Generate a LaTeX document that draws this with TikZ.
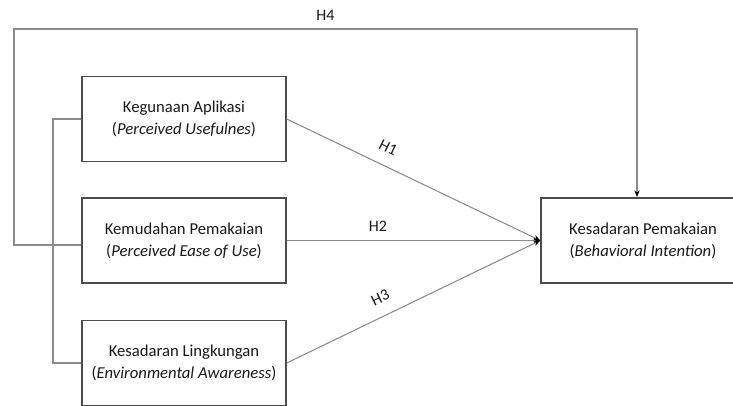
\documentclass[tikz,border=0pt]{standalone}
\usepackage{fontspec}
\setmainfont{Carlito}
\usetikzlibrary{arrows.meta}
\tikzset{
  varbox/.style={draw=black!70, line width=1.1pt, minimum width=153pt, minimum height=64pt, align=center, inner sep=0pt, text=black!90, font=\fontsize{12.5}{16.5}\selectfont},
  link/.style={draw=black!45, line width=0.8pt},
  hlabel/.style={text=black!90, font=\fontsize{12}{14}\selectfont}
}
\begin{document}
\begin{tikzpicture}[x=0.75pt,y=-0.75pt,>={Stealth[length=5pt,width=4pt,black]}]
    \useasboundingbox (0,0) rectangle (733,406);
    \clip (0,0) rectangle (733,406);
    \node[varbox] (kegunaan) at (184,119) {Kegunaan Aplikasi\\(\textit{Perceived Usefulnes})};
    \node[varbox] (kemudahan) at (184,240.5) {Kemudahan Pemakaian\\(\textit{Perceived Ease of Use})};
    \node[varbox] (lingkungan) at (184,363) {Kesadaran Lingkungan\\(\textit{Environmental Awareness})};
    \node[varbox] (intention) at (643,240.5) {Kesadaran Pemakaian\\(\textit{Behavioral Intention})};

    \coordinate (lowleft) at (14,245);
    \coordinate (topleft) at (14,29);
    \coordinate (bracket) at (53,119);
    \coordinate (h4end) at ([xshift=-4.5pt]intention.north);

    \draw[link] (kegunaan.west) -- (bracket) |- (lingkungan.west);
    \draw[link,->] (kemudahan.west |- lowleft) -- (lowleft) -- (topleft) -| (h4end) node[pos=0.25, above=3pt, hlabel]{H4};

    \draw[link,->] (kegunaan.east) -- (intention.west) node[pos=0.37, sloped, above=6pt, hlabel]{H1};
    \draw[link,->] (kemudahan.east) -- (intention.west) node[pos=0.36, above=3pt, hlabel]{H2};
    \draw[link,->] (lingkungan.east) -- (intention.west) node[pos=0.4, sloped, above=6pt, hlabel]{H3};

\end{tikzpicture}
\end{document}
